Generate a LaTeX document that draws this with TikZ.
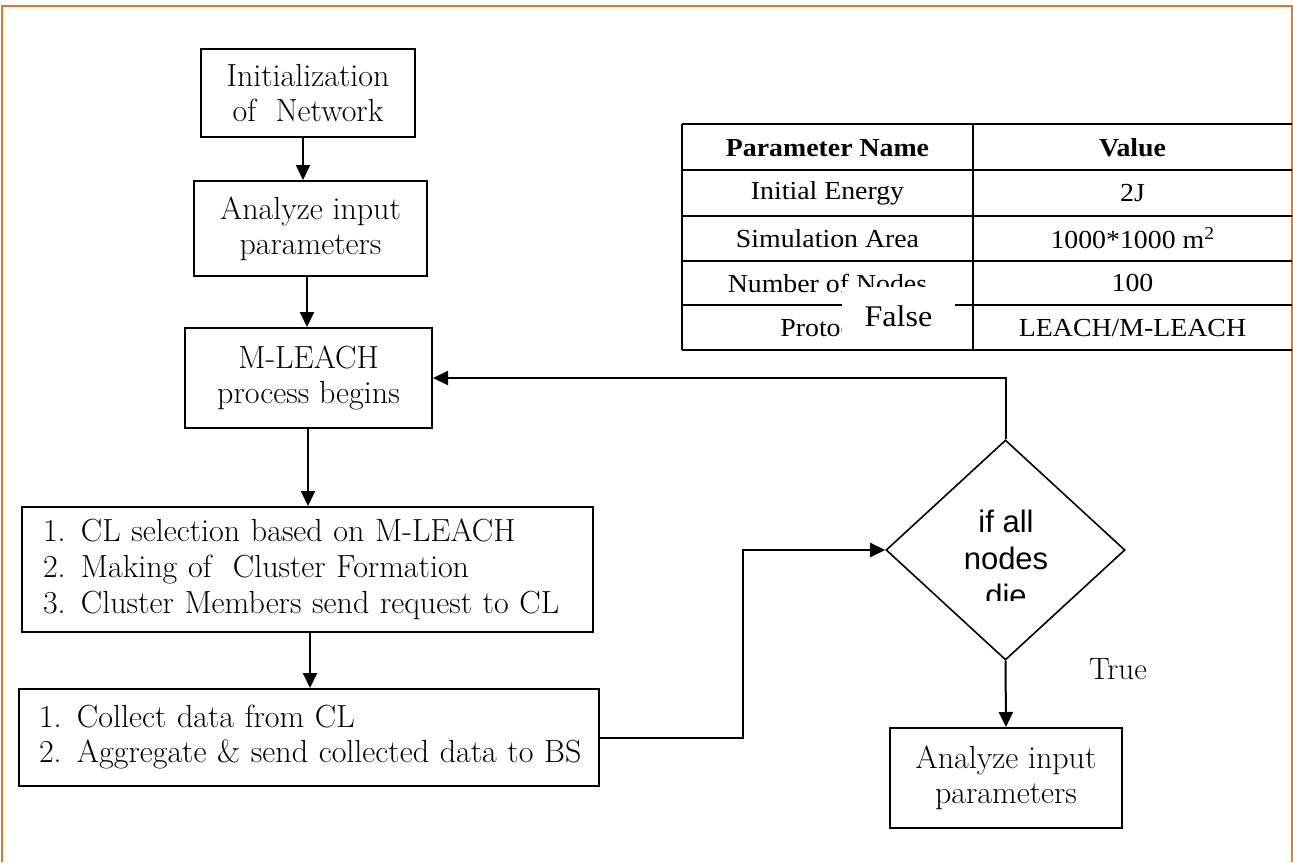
\documentclass[tikz,border=0pt]{standalone}
\usepackage{fontspec}
\newfontfamily\tabfont[FakeStretch=1.07]{Liberation Serif}
\newfontfamily\sansf{Liberation Sans}
\usetikzlibrary{arrows.meta,shapes.geometric,calc}
\definecolor{bord}{RGB}{232,118,30}
\begin{document}
\begin{tikzpicture}[x=1pt,y=-1pt,
  box/.style={draw, line width=2pt, rectangle, inner sep=0pt, align=center},
  boxfont/.style={font=\fontsize{32}{35}\selectfont},
  listbox/.style={draw, line width=2pt, rectangle, inner ysep=0pt, align=left},
  arr/.style={line width=2pt, -{Triangle[length=15pt,width=14pt]}},
  tline/.style={line width=1.2pt},
  ttxt/.style={font=\tabfont\fontsize{26}{30}\selectfont, inner sep=0pt}]
\useasboundingbox (0,0) rectangle (1293,862);
\draw[bord, line width=2pt] (2,862) -- (2,6) -- (1292,6) -- (1292,862);

% table
\foreach \yy in {124,170,216,261,305,350} \draw[tline] (682,\yy) -- (1292,\yy);
\draw[tline] (682,124) -- (682,350);
\draw[tline] (973,124) -- (973,350);
\node[ttxt] (t11) at (827.5,148) {\bfseries Parameter Name};
\node[ttxt] (t12) at (1132.5,148) {\bfseries Value};
\node[ttxt] (t21) at (827.5,193) {Initial Energy};
\node[ttxt] (t22) at (1132.5,193) {2J};
\node[ttxt] (t31) at (827.5,238.5) {Simulation Area};
\node[ttxt] (t32) at (1132.5,238.5) {1000*1000 m\textsuperscript{2}};
\node[ttxt] (t41) at (827.5,283) {Number of Nodes};
\node[ttxt] (t42) at (1132.5,283) {100};
\node[ttxt] (t51) at (827.5,328) {Protocol};
\node[ttxt] (t52) at (1132.5,328) {LEACH/M-LEACH};
\node[fill=white, minimum width=113, minimum height=58, inner sep=0pt,
      font=\tabfont\fontsize{30}{34}\selectfont] (fl) at (898.5,316) {False};

% flow boxes
\node[box, boxfont, minimum width=214, minimum height=88] (b1) at (308,93) {Initialization\\of\ \ Network};
\node[box, boxfont, minimum width=233, minimum height=95] (b2) at (310.5,228.5) {Analyze input\\parameters};
\node[box, boxfont, minimum width=247, minimum height=100] (b3) at (308.5,378) {M-LEACH\\process begins};
\node[listbox, font=\fontsize{32}{36}\selectfont, inner xsep=21pt, text width=529pt, minimum height=125] (b4) at (307.5,569.5)
  {\mbox{\makebox[38pt][l]{1.}CL selection based on M-LEACH}\\
   \mbox{\makebox[38pt][l]{2.}Making of\ \ Cluster Formation}\\
   \mbox{\makebox[38pt][l]{3.}Cluster Members send request to CL}};
\node[listbox, font=\fontsize{32}{35}\selectfont, inner xsep=20pt, text width=540pt, minimum height=97] (b5) at (309,737.5)
  {\mbox{\makebox[38pt][l]{1.}Collect data from CL}\\
   \mbox{\makebox[38pt][l]{2.}Aggregate \& send collected data to BS}};
\node[box, font=\fontsize{32}{35}\selectfont, minimum width=232, minimum height=100] (b6) at (1006,778) {Analyze input\\parameters};

\node[diamond, draw, line width=1.6pt, inner sep=0pt, minimum width=239, minimum height=220] (d) at (1005.5,550) {};
\begin{scope}
\clip (880,440) rectangle (1130,600);
\node[font=\sansf\fontsize{31}{37}\selectfont, align=center, inner sep=0pt] (dt) at (1006,558) {if all\\nodes\\die};
\end{scope}

\node[font=\fontsize{31}{34}\selectfont, inner sep=0pt] (tr) at (1118,669) {True};

% connectors
\draw[arr] (b1.south -| 303,0) -- (b2.north -| 303,0);
\draw[arr] (b2.south -| 307,0) -- (b3.north -| 307,0);
\draw[arr] (b3.south -| 308,0) -- (b4.north -| 308,0);
\draw[arr] (b4.south -| 310,0) -- (b5.north -| 310,0);
\coordinate (k) at (743,600);
\draw[arr] (b5.east) -- (b5.east -| k) -- (k |- d.west) -- (d.west);
\draw[arr] (d.north) -- (d.north |- b3.east) -- (b3.east);
\draw[arr] (d.south) -- (b6.north);
\end{tikzpicture}
\end{document}
